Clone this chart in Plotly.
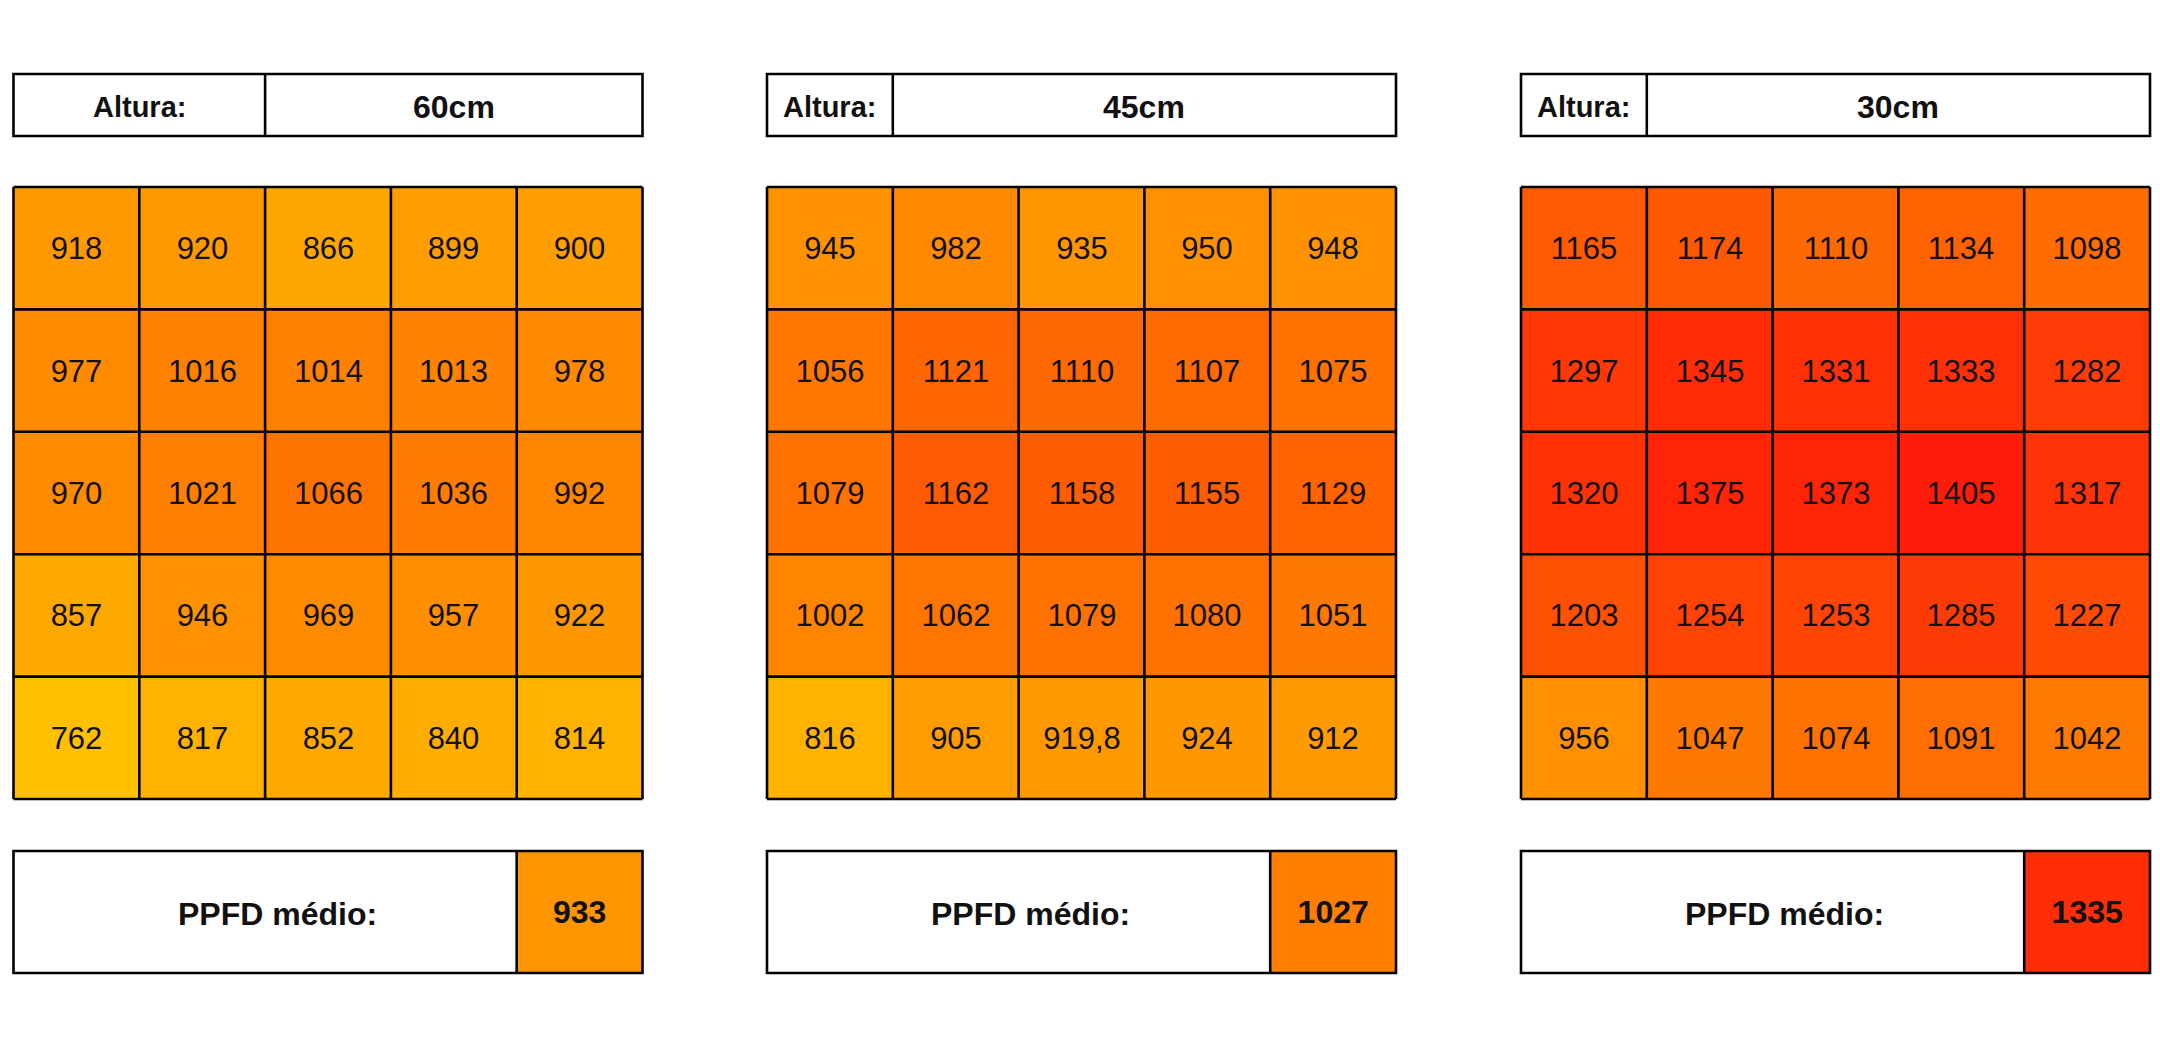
import plotly.graph_objects as go

# ---------------- data ----------------
height_labels = ["60cm", "45cm", "30cm"]
grid_60 = [[918, 920, 866, 899, 900],
           [977, 1016, 1014, 1013, 978],
           [970, 1021, 1066, 1036, 992],
           [857, 946, 969, 957, 922],
           [762, 817, 852, 840, 814]]
grid_45 = [[945, 982, 935, 950, 948],
           [1056, 1121, 1110, 1107, 1075],
           [1079, 1162, 1158, 1155, 1129],
           [1002, 1062, 1079, 1080, 1051],
           [816, 905, 919.8, 924, 912]]
grid_30 = [[1165, 1174, 1110, 1134, 1098],
           [1297, 1345, 1331, 1333, 1282],
           [1320, 1375, 1373, 1405, 1317],
           [1203, 1254, 1253, 1285, 1227],
           [956, 1047, 1074, 1091, 1042]]
averages = [933, 1027, 1335]
grids = [grid_60, grid_45, grid_30]

# ---------------- layout geometry (pixels in the page) ----------------
PAGE_OFF = 8          # default body margin of the html page
W, H = 2160 - 2 * PAGE_OFF, 1050 - 2 * PAGE_OFF
panel_left = [13.5, 767, 1521]
panel_w = 629
header_y = (74, 136)
grid_y = (187, 799)
avg_y = (851, 973)
header_split = [0.4, 0.2, 0.2]
ZMIN, ZMAX = 762, 1405
colorscale = [[0, "rgb(255,192,0)"], [0.5, "rgb(255,112,0)"], [1, "rgb(255,28,8)"]]
FONT = "Liberation Sans, Arial, sans-serif"
LW = 2.6


def fx(p):
    return (p - PAGE_OFF) / W


def fy(p):
    return 1 - (p - PAGE_OFF) / H


def fmt(v):
    s = f"{v:g}"
    return s.replace(".", ",")


fig = go.Figure()
shapes = []
annotations = []
layout_axes = {}

for i, g in enumerate(grids):
    L = panel_left[i]
    R = L + panel_w
    n = len(g)
    ax = i + 1
    xa = "x" if ax == 1 else f"x{ax}"
    ya = "y" if ax == 1 else f"y{ax}"
    fig.add_trace(go.Heatmap(
        z=g, text=[[fmt(v) for v in row] for row in g], texttemplate="%{text}",
        textfont=dict(size=31, color="#111111", family=FONT),
        colorscale=colorscale, zmin=ZMIN, zmax=ZMAX, showscale=False,
        hoverinfo="skip", xaxis=xa, yaxis=ya))
    layout_axes[f"xaxis{'' if ax == 1 else ax}"] = dict(
        domain=[fx(L), fx(R)], range=[-0.5, n - 0.5], visible=False, fixedrange=True,
        anchor=ya)
    layout_axes[f"yaxis{'' if ax == 1 else ax}"] = dict(
        domain=[fy(grid_y[1]), fy(grid_y[0])], range=[n - 0.5, -0.5], visible=False,
        fixedrange=True, anchor=xa)
    for k in range(n + 1):
        xk = L + panel_w * k / n
        shapes.append(dict(type="line", xref="paper", yref="paper",
                           x0=fx(xk), x1=fx(xk), y0=fy(grid_y[0]), y1=fy(grid_y[1]),
                           line=dict(color="black", width=LW)))
        yk = grid_y[0] + (grid_y[1] - grid_y[0]) * k / n
        shapes.append(dict(type="line", xref="paper", yref="paper",
                           x0=fx(L), x1=fx(R), y0=fy(yk), y1=fy(yk),
                           line=dict(color="black", width=LW)))

    # average cell
    ax2 = i + 4
    xa2, ya2 = f"x{ax2}", f"y{ax2}"
    cell_l = R - panel_w / n
    fig.add_trace(go.Heatmap(
        z=[[averages[i]]], text=[[fmt(averages[i])]], texttemplate="<b>%{text}</b>",
        textfont=dict(size=32, color="#111111", family=FONT),
        colorscale=colorscale, zmin=ZMIN, zmax=ZMAX, showscale=False,
        hoverinfo="skip", xaxis=xa2, yaxis=ya2))
    layout_axes[f"xaxis{ax2}"] = dict(domain=[fx(cell_l), fx(R)], range=[-0.5, 0.5],
                                      visible=False, fixedrange=True, anchor=ya2)
    layout_axes[f"yaxis{ax2}"] = dict(domain=[fy(avg_y[1]), fy(avg_y[0])], range=[0.5, -0.5],
                                      visible=False, fixedrange=True, anchor=xa2)
    shapes.append(dict(type="rect", xref="paper", yref="paper",
                       x0=fx(L), x1=fx(R), y0=fy(avg_y[1]), y1=fy(avg_y[0]),
                       line=dict(color="black", width=LW), fillcolor="rgba(0,0,0,0)"))
    shapes.append(dict(type="line", xref="paper", yref="paper",
                       x0=fx(cell_l), x1=fx(cell_l), y0=fy(avg_y[1]), y1=fy(avg_y[0]),
                       line=dict(color="black", width=LW)))
    annotations.append(dict(text="<b>PPFD médio:</b>", xref="paper", yref="paper",
                            x=fx((L + cell_l) / 2 + 12), y=fy((avg_y[0] + avg_y[1]) / 2 + 2),
                            showarrow=False, xanchor="center", yanchor="middle",
                            font=dict(size=32, color="#111111", family=FONT)))

    # header
    split = L + panel_w * header_split[i]
    shapes.append(dict(type="rect", xref="paper", yref="paper",
                       x0=fx(L), x1=fx(R), y0=fy(header_y[1]), y1=fy(header_y[0]),
                       line=dict(color="black", width=LW), fillcolor="white"))
    shapes.append(dict(type="line", xref="paper", yref="paper",
                       x0=fx(split), x1=fx(split), y0=fy(header_y[1]), y1=fy(header_y[0]),
                       line=dict(color="black", width=LW)))
    hy = fy((header_y[0] + header_y[1]) / 2 + 2)
    annotations.append(dict(text="<b>Altura:</b>", xref="paper", yref="paper",
                            x=fx((L + split) / 2), y=hy, showarrow=False,
                            xanchor="center", yanchor="middle",
                            font=dict(size=29, color="#111111", family=FONT)))
    annotations.append(dict(text=f"<b>{height_labels[i]}</b>", xref="paper", yref="paper",
                            x=fx((split + R) / 2), y=hy, showarrow=False,
                            xanchor="center", yanchor="middle",
                            font=dict(size=32, color="#111111", family=FONT)))

fig.update_layout(
    width=W, height=H, margin=dict(l=0, r=0, t=0, b=0),
    paper_bgcolor="white", plot_bgcolor="white",
    shapes=shapes, annotations=annotations, showlegend=False,
    **layout_axes)

fig.write_html("out.html", config={"displayModeBar": False})
